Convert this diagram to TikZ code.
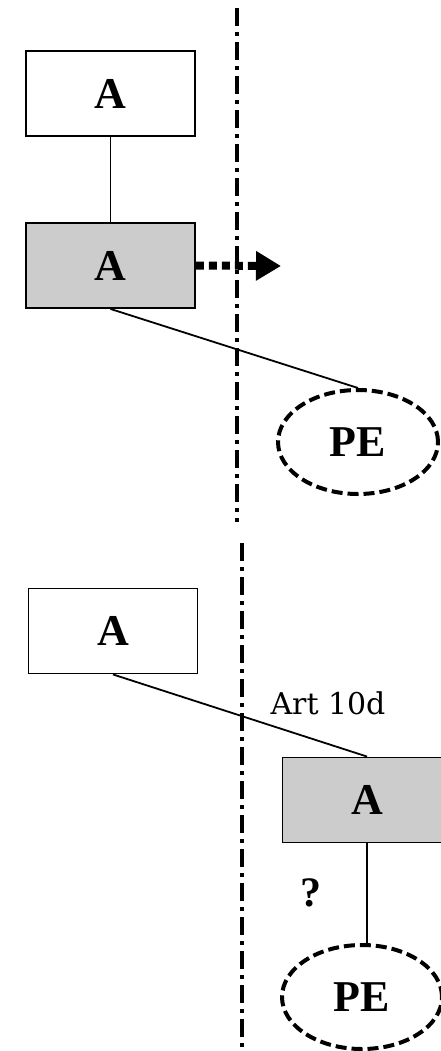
\documentclass[tikz,border=0pt]{standalone}
\usepackage{fontspec}
\setmainfont{Liberation Serif}
\newfontfamily\artfont{DejaVu Serif}
\usetikzlibrary{arrows.meta,shapes.geometric}
\definecolor{boxgray}{RGB}{204,204,204}
\begin{document}
\begin{tikzpicture}[x=1pt,y=-1pt,
  entbox/.style={draw, line width=1.9pt, minimum width=169pt, minimum height=85pt, inner sep=0pt,
    font=\fontsize{44}{44}\selectfont\bfseries},
  graybox/.style={entbox, fill=boxgray},
  peell/.style={ellipse, draw, line width=4pt, dash pattern=on 11pt off 5pt, inner sep=0pt,
    minimum width=160pt, minimum height=104pt, font=\fontsize{44}{44}\selectfont\bfseries},
  divider/.style={line width=3.8pt, dash pattern=on 18pt off 6pt on 4pt off 6pt},
  link/.style={line width=1.8pt}]
\useasboundingbox (0,0) rectangle (440,1051);
% top panel
\node[entbox] (a1) at (110.5,93.5) {A};
\node[graybox] (a2) at (110.5,265.5) {A};
\node[peell] (pe1) at (358,442) {PE};
\coordinate (d1t) at (237,8);
\coordinate (d1b) at (237,522);
\draw[divider] (d1t) -- (d1b);
\coordinate (arrend) at (281,266);
\draw[line width=8pt, dash pattern=on 8pt off 5pt, -{Triangle[length=25pt,width=28pt]}] (a2.east) -- (arrend);
\draw[link] (a1.south) -- (a2.north);
\draw[link] (a2.south) -- (pe1.north);
% bottom panel
\coordinate (d2t) at (242,543);
\coordinate (d2b) at (242,1051);
\draw[divider] (d2t) -- (d2b);
\node[entbox] (a3) at (113,631) {A};
\node[graybox] (a4) at (367,800) {A};
\node[peell] (pe2) at (362,997) {PE};
\draw[link] (a3.south) -- (a4.north);
\draw[link] (a4.south) -- (a4.south |- pe2.north);
\node[font=\artfont\fontsize{30}{30}\selectfont] (art) at (328,703) {Art 10d};
\node[font=\fontsize{42}{42}\selectfont\bfseries] (q) at (311,893) {?};
\end{tikzpicture}
\end{document}
